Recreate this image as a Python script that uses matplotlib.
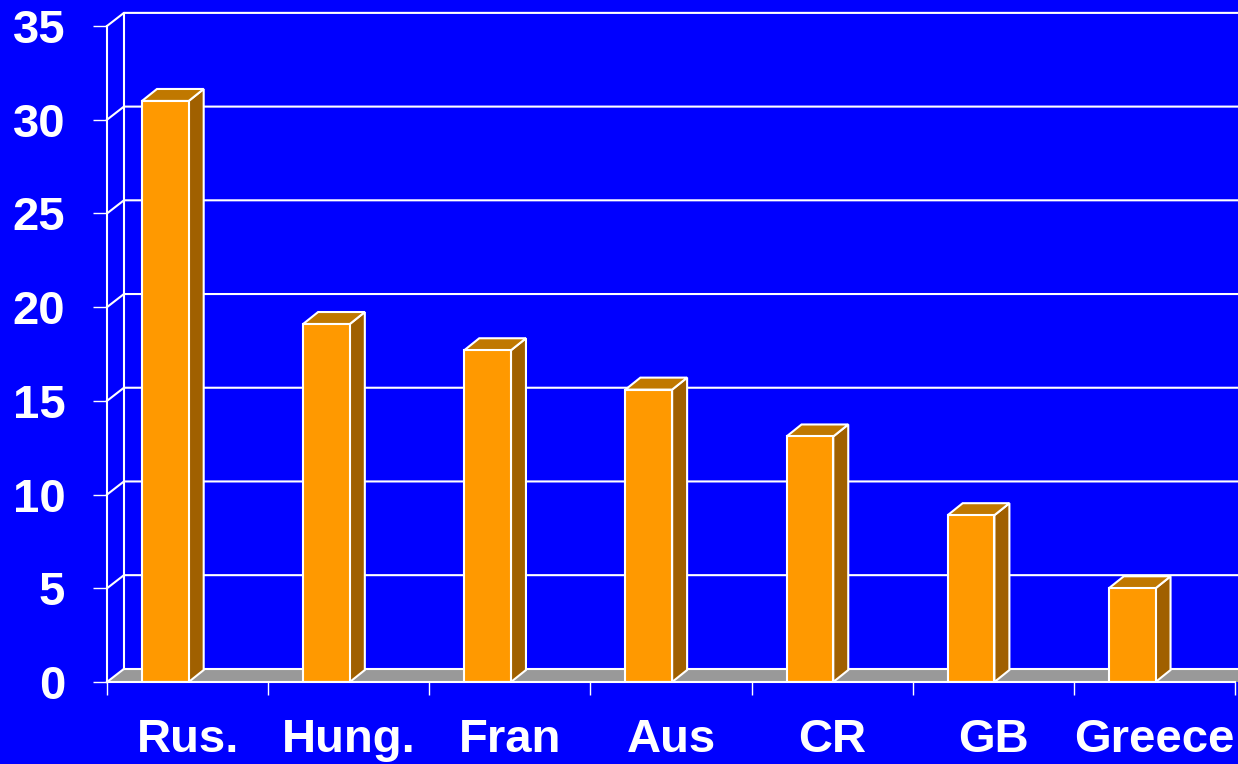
import numpy as np
import matplotlib.pyplot as plt
from matplotlib.patches import Polygon

plt.rcParams['font.family'] = ['Liberation Sans', 'DejaVu Sans']

# data
countries = ["Rus.", "Hung.", "Fran", "Aus", "CR", "GB", "Greece"]
values = [31.0, 19.1, 17.7, 15.6, 13.1, 8.9, 5.0]
y_ticks = [0, 5, 10, 15, 20, 25, 30, 35]

# colours
blue = "#0000FF"
front_col = "#FF9900"
top_col = "#C07800"
side_col = "#A06000"
floor_col = "#999999"

# depth of the walls and of the bars (x in category units, y in value units)
wall_dx, wall_dy = 0.105, 0.70
bar_dx, bar_dy = 0.093, 0.64
bar_off, bar_w = 0.217, 0.29
x_end = 7.4

fig = plt.figure(figsize=(12.38, 7.64), dpi=100, facecolor=blue)
ax = fig.add_axes([107 / 1238, 82 / 764, 1128 / 1238, 656 / 764])
ax.set_facecolor(blue)
ax.set_xlim(0, len(countries))
ax.set_ylim(0, 35)

# floor
floor = Polygon([(0, 0), (wall_dx, wall_dy), (x_end, wall_dy), (x_end, 0)],
                closed=True, facecolor=floor_col, edgecolor="none", clip_on=False, zorder=1)
ax.add_patch(floor)
ax.plot([0, wall_dx], [0, wall_dy], color="white", lw=1.5, clip_on=False, zorder=2)
ax.plot([wall_dx, x_end], [wall_dy, wall_dy], color="white", lw=1.5, clip_on=False, zorder=2)

# back wall edge and gridlines
ax.plot([wall_dx, wall_dx], [wall_dy, 35 + wall_dy], color="white", lw=1.5, clip_on=False, zorder=2)
for v in y_ticks[1:]:
    ax.plot([0, wall_dx, x_end], [v, v + wall_dy, v + wall_dy], color="white", lw=1.5,
            clip_on=False, zorder=2)

# bars
for i, h in enumerate(values):
    x0 = i + bar_off
    x1 = x0 + bar_w
    side = Polygon([(x1, 0), (x1 + bar_dx, bar_dy), (x1 + bar_dx, h + bar_dy), (x1, h)],
                   closed=True, facecolor=side_col, edgecolor="white", lw=1.5, zorder=3)
    top = Polygon([(x0, h), (x1, h), (x1 + bar_dx, h + bar_dy), (x0 + bar_dx, h + bar_dy)],
                  closed=True, facecolor=top_col, edgecolor="white", lw=1.5, zorder=3)
    front = Polygon([(x0, 0), (x1, 0), (x1, h), (x0, h)],
                    closed=True, facecolor=front_col, edgecolor="white", lw=1.5, zorder=4)
    ax.add_patch(side)
    ax.add_patch(top)
    ax.add_patch(front)

# axes
for s in ["top", "right"]:
    ax.spines[s].set_visible(False)
for s in ["left", "bottom"]:
    ax.spines[s].set_color("white")
    ax.spines[s].set_linewidth(1.5)
    ax.spines[s].set_zorder(5)

ax.set_yticks(y_ticks)
ax.set_yticklabels([str(t) for t in y_ticks])
ax.tick_params(axis="y", colors="white", length=10, width=1, pad=20,
               labelsize=34, labelcolor="white")
for lab in ax.get_yticklabels():
    lab.set_fontweight("bold")

ax.set_xticks(np.arange(len(countries) + 1))
ax.set_xticklabels([])
ax.tick_params(axis="x", which="major", colors="white", length=9.5, width=1)
ax.set_xticks(np.arange(len(countries)) + 0.5, minor=True)
ax.set_xticklabels(countries, minor=True)
ax.tick_params(axis="x", which="minor", length=0, pad=26, labelsize=34,
               labelcolor="white")
for lab in ax.get_xticklabels(minor=True):
    lab.set_fontweight("bold")

fig.savefig("out.png", dpi=100, facecolor=blue)
